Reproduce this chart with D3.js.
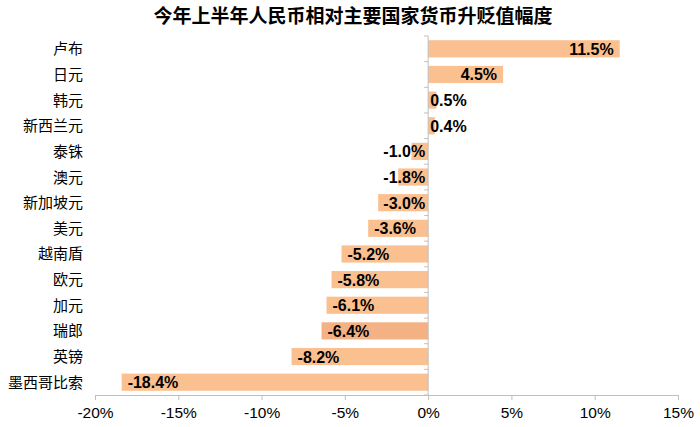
<!DOCTYPE html>
<html><head><meta charset="utf-8">
<script src="https://cdn.jsdelivr.net/npm/d3@7"></script>
<style>body{margin:0;background:#fff}svg{display:block}</style>
</head><body><svg id="c" width="700" height="427"></svg>
<script>
const title = "今年上半年人民币相对主要国家货币升贬值幅度";
const categories = ["卢布","日元","韩元","新西兰元","泰铢","澳元","新加坡元","美元","越南盾","欧元","加元","瑞郎","英镑","墨西哥比索"];
const values = [11.5,4.5,0.5,0.4,-1.0,-1.8,-3.0,-3.6,-5.2,-5.8,-6.1,-6.4,-8.2,-18.4];
const highlight = ["瑞郎"];
const xTicks = [-20,-15,-10,-5,0,5,10,15];

const svg = d3.select("#c");
const m = {left:95, right:678, top:36, bottom:395};
const x = d3.scaleLinear().domain([-20,15]).range([m.left,m.right]);
const y = d3.scaleBand().domain(categories).range([m.top,m.bottom]).paddingInner(0.33).paddingOuter(0.165);
const cjk = "'Noto Sans CJK SC','Noto Sans',sans-serif";
const latin = "'Liberation Sans',Arial,sans-serif";
const axisCol = "#bfbfbf";

svg.append("text").attr("x",353).attr("y",23).attr("text-anchor","middle")
  .attr("font-family",cjk).attr("font-weight","bold").attr("font-size",19).attr("fill","#000").text(title);

// bars
svg.selectAll("rect.bar").data(categories).join("rect")
  .attr("x",(d,i)=>x(Math.min(0,values[i])))
  .attr("width",(d,i)=>Math.abs(x(values[i])-x(0)))
  .attr("y",d=>y(d)).attr("height",y.bandwidth())
  .attr("fill",d=>highlight.includes(d)?"#F4B183":"#FAC090");

// x axis
const xa = svg.append("g").attr("transform",`translate(0,${m.bottom})`)
  .call(d3.axisBottom(x).tickValues(xTicks).tickSize(5).tickSizeOuter(0).tickPadding(7).tickFormat(d=>d+"%"));
xa.select(".domain").attr("stroke",axisCol);
xa.selectAll(".tick line").attr("stroke",axisCol);
xa.selectAll("text").attr("font-family",latin).attr("font-size",15.5).attr("fill","#000");

// zero axis with ticks at band boundaries
const bounds = d3.range(categories.length+1).map(i=>m.top+i*(m.bottom-m.top)/categories.length);
svg.append("line").attr("x1",x(0)).attr("x2",x(0)).attr("y1",m.top).attr("y2",m.bottom).attr("stroke",axisCol);
svg.selectAll("line.yt").data(bounds).join("line").attr("class","yt")
  .attr("x1",x(0)-4).attr("x2",x(0)).attr("y1",d=>d).attr("y2",d=>d).attr("stroke",axisCol);

// category labels
svg.selectAll("text.cat").data(categories).join("text").attr("class","cat")
  .attr("x",83).attr("y",d=>y(d)+y.bandwidth()/2+5.5).attr("text-anchor","end")
  .attr("font-family",cjk).attr("font-size",15).attr("fill","#000").text(d=>d);

// value labels
const labs = svg.selectAll("text.val").data(categories).join("text").attr("class","val")
  .attr("y",d=>y(d)+y.bandwidth()/2+6)
  .attr("font-family",latin).attr("font-weight","bold").attr("font-size",16).attr("fill","#000")
  .text((d,i)=>values[i].toFixed(1)+"%");
labs.each(function(d,i){
  const w = this.getComputedTextLength();
  const v = values[i];
  let left;
  if(v>=0){ left = Math.max(x(v)-6-w, x(0)+2); }
  else { left = Math.min(x(v)+6, x(0)-3-w); }
  d3.select(this).attr("x",left);
});
</script></body></html>
